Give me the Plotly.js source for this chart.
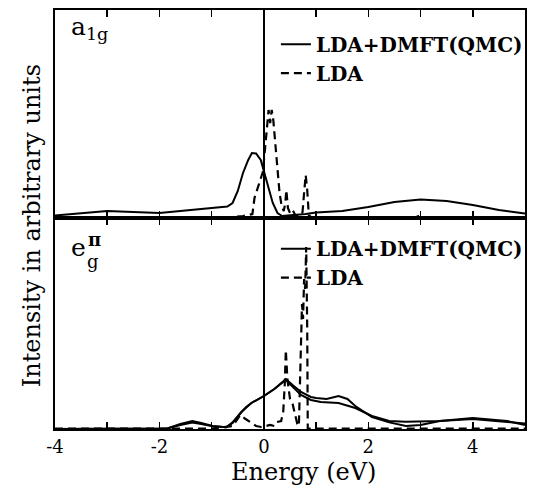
<!DOCTYPE html>
<html>
<head>
<meta charset="utf-8">
<script src="https://cdn.plot.ly/plotly-3.0.1.min.js"></script>
<style>html,body{margin:0;padding:0;background:#fff;}</style>
</head>
<body>
<div id="chart" style="width:534px;height:487px;"></div>
<script>
// ---- a1g panel (top) ----
const a1gDmftE = [-4.0,-3.5,-3.0,-2.5,-2.0,-1.5,-1.0,-0.7,-0.6,-0.5,-0.4,-0.3,-0.23,-0.15,-0.06,0.01,0.09,0.17,0.26,0.35,0.45,0.6,0.8,1.0,1.5,2.0,2.5,3.0,3.5,4.0,4.5,5.0];
const a1gDmftI = [2.5,5,7,6,5,7.5,10,11.5,15,27,45,58,65,64.5,58,45,28,15,5,2,2.5,3,4,5.5,7,11,16,18.5,17,13,8,4.5];

const a1gLdaE = [-4.0,-2.0,-1.0,-0.6,-0.4,-0.3,-0.22,-0.18,-0.12,-0.08,-0.02,0.02,0.06,0.09,0.12,0.15,0.18,0.21,0.25,0.3,0.34,0.38,0.41,0.43,0.46,0.5,0.55,0.6,0.68,0.74,0.77,0.8,0.83,0.86,0.9,1.5,2.9,3.0,3.05,5.0];
const a1gLdaI = [0.5,0.5,0.5,1,2,3,4,20,30,38,46,68,95,108,95,108,98,80,50,25,12,7,15,28,10,5,8,3,2,6,25,43,28,3,1,0.5,0.5,3,0.5,0.5];

// ---- eg^pi panel (bottom) ----
const egDmftAE = [-4.0,-2.0,-1.85,-1.6,-1.37,-1.2,-0.98,-0.72,-0.6,-0.43,-0.34,-0.24,0.0,0.2,0.42,0.55,0.71,0.9,1.0,1.2,1.43,1.6,1.75,2.07,2.4,2.72,3.0,3.37,4.0,4.66,5.0];
const egDmftAI = [0,0,0.5,5,8,6,3,1.7,6.6,17,22,26,33,40,50,44,37,32,31,30,33,30,23,12,6.6,3,4,8,11,8,4];

const egDmftBE = [-4.0,-2.0,-1.85,-1.6,-1.37,-1.2,-0.98,-0.72,-0.6,-0.43,-0.24,0.0,0.2,0.42,0.55,0.71,0.9,1.09,1.43,1.75,2.07,2.4,2.72,3.37,4.0,4.66,5.0];
const egDmftBI = [0,0,0.5,4,6.6,5,2.7,1.7,6,17,26,33,40,49,42,34,29,27,26,21,13,8,7.3,8,10,6.6,5.6];

const egLdaE = [-4.0,-1.0,-0.6,-0.45,-0.35,-0.27,-0.15,-0.05,0.05,0.12,0.2,0.25,0.33,0.37,0.4,0.42,0.45,0.5,0.55,0.6,0.64,0.67,0.7,0.73,0.75,0.77,0.79,0.81,0.83,0.84,5.0];
const egLdaI = [0.5,0.5,3,14,10,7,3,2,3,4,3,7,8,17,45,79,50,30,25,12,5,3,80,125,110,150,140,182,100,0.5,0.5];

// ---- axis ticks ----
const tickVals = [-4,-2,0,2,4];
const tickText = ['-4','-2','0','2','4'];
const minorTickVals = [-3,-1,1,3,5];

const serif = 'DejaVu Serif';
const solid = {color:'black', width:2, dash:'solid'};
const dashed = {color:'black', width:2.2, dash:'8px,5px'};

const traces = [
  {x:a1gDmftE, y:a1gDmftI, xaxis:'x2', yaxis:'y2', mode:'lines', line:solid, name:'LDA+DMFT(QMC)', legend:'legend'},
  {x:a1gLdaE, y:a1gLdaI, xaxis:'x2', yaxis:'y2', mode:'lines', line:dashed, name:'LDA', legend:'legend'},
  {x:egDmftAE, y:egDmftAI, xaxis:'x', yaxis:'y', mode:'lines', line:solid, name:'LDA+DMFT(QMC)', legend:'legend2'},
  {x:egDmftBE, y:egDmftBI, xaxis:'x', yaxis:'y', mode:'lines', line:solid, name:'LDA+DMFT(QMC) ', showlegend:false, legend:'legend2'},
  {x:egLdaE, y:egLdaI, xaxis:'x', yaxis:'y', mode:'lines', line:dashed, name:'LDA', legend:'legend2'}
];

const split = 211/419;
const xBase = {
  range:[-4,5], tickmode:'array', tickvals:tickVals, ticktext:tickText, ticks:'inside', ticklen:7, tickwidth:1.5,
  tickcolor:'black', showline:true, linecolor:'black', linewidth:2, mirror:'ticks',
  minor:{tickmode:'array', tickvals:minorTickVals, ticks:'inside', ticklen:7, tickwidth:1.5, tickcolor:'black'},
  showgrid:false, zeroline:true, zerolinecolor:'black', zerolinewidth:1.5,
  tickfont:{family:serif, size:18, color:'black'}
};
const yBase = {showline:true, linecolor:'black', linewidth:2, mirror:true, showgrid:false,
  zeroline:false, showticklabels:false, ticks:''};

const legFont = {family:serif, size:20, color:'black', weight:'bold'};
const layout = {
  width:534, height:487,
  margin:{l:55, r:6, t:10, b:58},
  paper_bgcolor:'white', plot_bgcolor:'white',
  showlegend:true,
  xaxis: Object.assign({}, xBase, {anchor:'y'}),
  xaxis2: Object.assign({}, xBase, {anchor:'y2', showticklabels:false, matches:'x'}),
  yaxis: Object.assign({}, yBase, {domain:[0, split], range:[0,211]}),
  yaxis2: Object.assign({}, yBase, {domain:[split, 1], range:[0,208]}),
  legend:{x:0.47, y:0.965, xanchor:'left', yanchor:'top', bgcolor:'rgba(0,0,0,0)', font:legFont, tracegroupgap:0, itemwidth:30},
  legend2:{x:0.47, y:0.477, xanchor:'left', yanchor:'top', bgcolor:'rgba(0,0,0,0)', font:legFont, tracegroupgap:0, itemwidth:30},
  annotations:[
    {text:'Energy (eV)', xref:'paper', yref:'paper', x:0.528, y:-0.102, xanchor:'center', yanchor:'middle',
     showarrow:false, font:{family:serif, size:24, color:'black'}},
    {text:'Intensity in arbitrary units', xref:'paper', yref:'paper', x:-0.05, y:0.485, textangle:-90,
     showarrow:false, xanchor:'center', yanchor:'middle', font:{family:serif, size:24, color:'black'}},
    {text:'a<sub>1g</sub>', xref:'paper', yref:'paper', x:0.03, y:1.0, xanchor:'left', yanchor:'top',
     showarrow:false, font:{family:serif, size:25, color:'black'}},
    {text:'e', xref:'paper', yref:'paper', x:0.03, y:split-0.03, xanchor:'left', yanchor:'top',
     showarrow:false, font:{family:serif, size:25, color:'black'}},
    {text:'g', xref:'paper', yref:'paper', x:0.064, y:split-0.073, xanchor:'left', yanchor:'top',
     showarrow:false, font:{family:serif, size:18, color:'black'}},
    {text:'π', xref:'paper', yref:'paper', x:0.066, y:split-0.022, xanchor:'left', yanchor:'top',
     showarrow:false, font:{family:serif, size:18, color:'black', weight:'bold'}}
  ]
};

Plotly.newPlot('chart', traces, layout, {displayModeBar:false, staticPlot:true});
</script>
</body>
</html>
